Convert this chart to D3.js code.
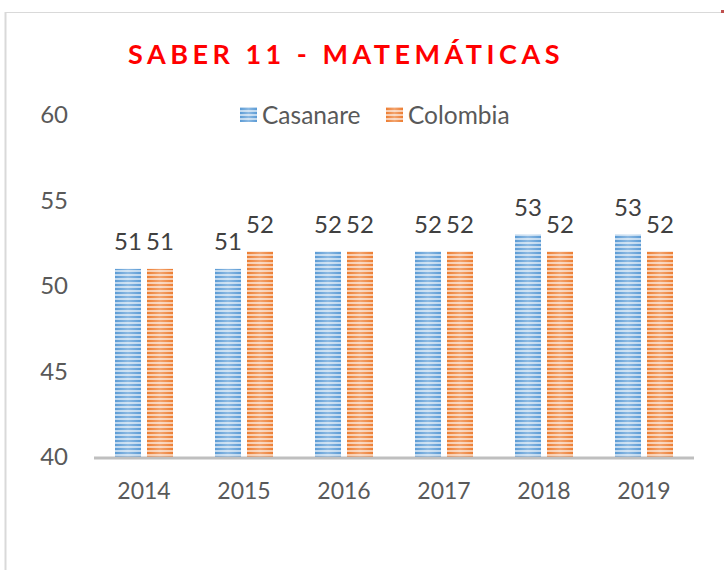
<!DOCTYPE html>
<html><head><meta charset="utf-8">
<script src="https://cdn.jsdelivr.net/npm/d3@7"></script>
<style>body{margin:0;background:#fff}svg{display:block}</style>
</head><body>
<script>
const years = ["2014","2015","2016","2017","2018","2019"];
const casanare = [51,51,52,52,53,53];
const colombia = [51,52,52,52,52,52];
const seriesNames = ["Casanare","Colombia"];
const seriesColors = ["#5b9bd5","#ed7d31"];
const yTicks = [40,45,50,55,60];

const W=726,H=570;
const svg=d3.select("body").append("svg").attr("width",W).attr("height",H);
const font="Lato, 'Open Sans', sans-serif";

const defs=svg.append("defs");
seriesColors.forEach((c,i)=>{
  const g=defs.append("linearGradient").attr("id","grad"+i).attr("x1","0").attr("x2","1").attr("y1","0").attr("y2","0");
  g.append("stop").attr("offset","0").attr("stop-color",c);
  g.append("stop").attr("offset","0.5").attr("stop-color",d3.interpolateRgb(c,"#fff")(0.3));
  g.append("stop").attr("offset","1").attr("stop-color",c);
});
const pat=defs.append("pattern").attr("id","stripes").attr("patternUnits","userSpaceOnUse").attr("width",8).attr("height",4);
pat.append("rect").attr("x",0).attr("y",2).attr("width",8).attr("height",2).attr("fill","#fff").attr("opacity",0.6);

// frame
svg.append("line").attr("x1",5).attr("x2",722).attr("y1",12.5).attr("y2",12.5).attr("stroke","#d9d9d9").attr("stroke-width",1);
svg.append("line").attr("x1",5.5).attr("x2",5.5).attr("y1",12).attr("y2",H).attr("stroke","#d9d9d9").attr("stroke-width",2);
svg.append("rect").attr("x",721).attr("y",10).attr("width",3).attr("height",3).attr("fill","#c0504d");

const x0=d3.scaleBand().domain(years).range([94,694]).paddingInner(0).paddingOuter(0);
const x1=d3.scaleBand().domain(seriesNames).range([0,58]).paddingInner(0.1875);
const y=d3.scaleLinear().domain([40,60]).range([457,115]);

// title
svg.append("text").attr("x",346).attr("y",64).attr("text-anchor","middle")
  .attr("fill","#ff0000").attr("font-family",font).attr("font-weight","bold")
  .attr("font-size",27).attr("letter-spacing",4.5).text("SABER 11 - MATEMÁTICAS");

// y ticks labels
svg.append("g").selectAll("text").data(yTicks).join("text")
  .attr("x",68).attr("y",d=>y(d)).attr("dy","0.35em").attr("text-anchor","end")
  .attr("fill","#595959").attr("font-family",font).attr("font-size",24).text(d=>d);

// bars
const data=years.map((yr,i)=>({yr,vals:[casanare[i],colombia[i]]}));
const groups=svg.append("g").selectAll("g").data(data).join("g")
  .attr("transform",d=>`translate(${x0(d.yr)+(x0.bandwidth()-58)/2},0)`);
groups.each(function(d){
  const g=d3.select(this);
  d.vals.forEach((v,i)=>{
    const bx=x1(seriesNames[i]), bw=x1.bandwidth();
    g.append("rect").attr("x",bx).attr("y",y(v)).attr("width",bw).attr("height",y(40)-y(v)).attr("fill",`url(#grad${i})`);
    g.append("rect").attr("x",bx).attr("y",y(v)).attr("width",bw).attr("height",y(40)-y(v)).attr("fill","url(#stripes)");
    g.append("text").attr("x",bx+bw/2).attr("y",y(v)-19).attr("text-anchor","middle")
      .attr("fill","#404040").attr("font-family",font).attr("font-size",24).text(v);
  });
});

// x axis
svg.append("line").attr("x1",94).attr("x2",694).attr("y1",y(40)+1).attr("y2",y(40)+1).attr("stroke","#bfbfbf").attr("stroke-width",3);
svg.append("g").selectAll("text").data(years).join("text")
  .attr("x",d=>x0(d)+x0.bandwidth()/2).attr("y",499).attr("text-anchor","middle")
  .attr("fill","#595959").attr("font-family",font).attr("font-size",23).text(d=>d);

// legend
const leg=[{x:240,tx:262},{x:386,tx:408}];
seriesNames.forEach((s,i)=>{
  svg.append("rect").attr("x",leg[i].x).attr("y",107).attr("width",17).attr("height",15).attr("fill",`url(#grad${i})`);
  svg.append("rect").attr("x",leg[i].x).attr("y",107).attr("width",17).attr("height",15).attr("fill","url(#stripes)");
  svg.append("text").attr("x",leg[i].tx).attr("y",115).attr("dy","0.35em").attr("fill","#595959")
    .attr("font-family",font).attr("font-size",24.5).text(s);
});
</script>
</body></html>
